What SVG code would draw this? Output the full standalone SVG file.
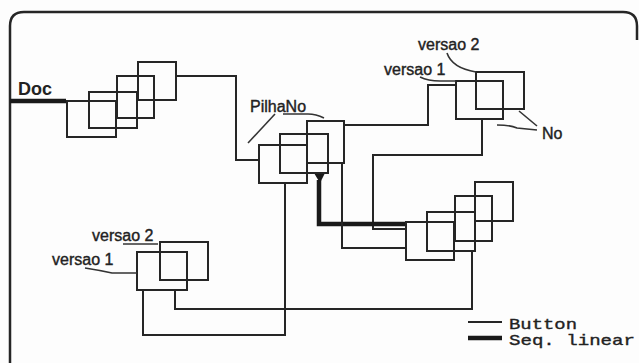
<svg xmlns="http://www.w3.org/2000/svg" width="639" height="363" viewBox="0 0 639 363">
<style>
.bx{fill:none;stroke:#262626;stroke-width:2}
.ln{fill:none;stroke:#262626;stroke-width:2}
.thick{fill:none;stroke:#1a1a1a;stroke-width:4.5}
.ld{fill:none;stroke:#333;stroke-width:1.6}
.lb{font-family:"Liberation Sans",Arial,sans-serif;font-size:16px;fill:#222;stroke:#222;stroke-width:0.4}
.mono{font-family:"Liberation Mono","Courier New",monospace;font-size:15px;fill:#222;stroke:#222;stroke-width:0.35}
</style>
<rect x="0" y="0" width="639" height="363" fill="#fdfdfd"/>
<g id="frame">
<path d="M10,363 V26 Q10,12 24,12 H623 Q637,12 637,26 V40" fill="none" stroke="#262626" stroke-width="2.5"/>
</g>
<g id="connectors">
<path class="thick" d="M10,101 H66"/>
<path class="ln" d="M176,76 H236 V160 H259"/>
<path class="ln" d="M344,125 H428 V85 H456"/>
<path class="ln" d="M482,119 V155 H373 V229 H406"/>
<path class="thick" d="M319,180 V224 H406"/>
<polygon points="314,173 325,173 320,183" fill="#1a1a1a"/>
<path class="ln" d="M342,163 V248 H406"/>
<path class="ln" d="M285,183 V335 H143 V290"/>
<path class="ln" d="M175,290 V309 H472 V251"/>
</g>
<g id="doc">
<text x="18" y="95" font-family="Liberation Sans,Arial,sans-serif" font-size="18" font-weight="bold" fill="#222">Doc</text>
</g>
<g id="doc-nodes">
<rect class="bx" x="67" y="101" width="49" height="36"/>
<rect class="bx" x="89" y="92" width="48" height="36"/>
<rect class="bx" x="117" y="76" width="37" height="42"/>
<rect class="bx" x="138" y="62" width="38" height="38"/>
</g>
<g id="pilhano">
<rect class="bx" x="259" y="145" width="48" height="38"/>
<rect class="bx" x="280" y="134" width="48" height="39"/>
<rect class="bx" x="307" y="121" width="37" height="42"/>
<text class="lb" x="250" y="112">PilhaNo</text>
<path class="ld" d="M275,114 L248,143"/>
<path class="ld" d="M283,114 H308 Q316,114 324,118"/>
</g>
<g id="no-versions">
<rect class="bx" x="456" y="81" width="47" height="38"/>
<rect class="bx" x="476" y="72" width="48" height="37"/>
<text class="lb" x="418" y="50">versao 2</text>
<path class="ld" d="M447,53 Q452,68 476,72"/>
<text class="lb" x="384" y="75">versao 1</text>
<path class="ld" d="M420,77 Q428,81 440,81 H456"/>
<text class="lb" x="542" y="139">No</text>
<path class="ld" d="M519,111 L537,126"/>
<path class="ld" d="M497,125 Q510,125 517,128 L537,130"/>
</g>
<g id="seq-nodes">
<rect class="bx" x="406" y="222" width="48" height="38"/>
<rect class="bx" x="427" y="212" width="48" height="39"/>
<rect class="bx" x="455" y="196" width="37" height="45"/>
<rect class="bx" x="475" y="182" width="38" height="39"/>
</g>
<g id="bottom-versions">
<rect class="bx" x="137" y="252" width="50" height="38"/>
<rect class="bx" x="160" y="242" width="48" height="38"/>
<text class="lb" x="92" y="241">versao 2</text>
<path class="ld" d="M123,244 H158"/>
<text class="lb" x="52" y="265">versao 1</text>
<path class="ld" d="M85,268 Q98,270 112,273 H137"/>
</g>
<g id="legend">
<path class="ln" d="M468,322 H502"/>
<path class="thick" d="M468,338 H502"/>
<text class="mono" x="509" y="329" textLength="68" lengthAdjust="spacingAndGlyphs">Button</text>
<text class="mono" x="509" y="345" textLength="126" lengthAdjust="spacingAndGlyphs">Seq. linear</text>
</g>
</svg>
